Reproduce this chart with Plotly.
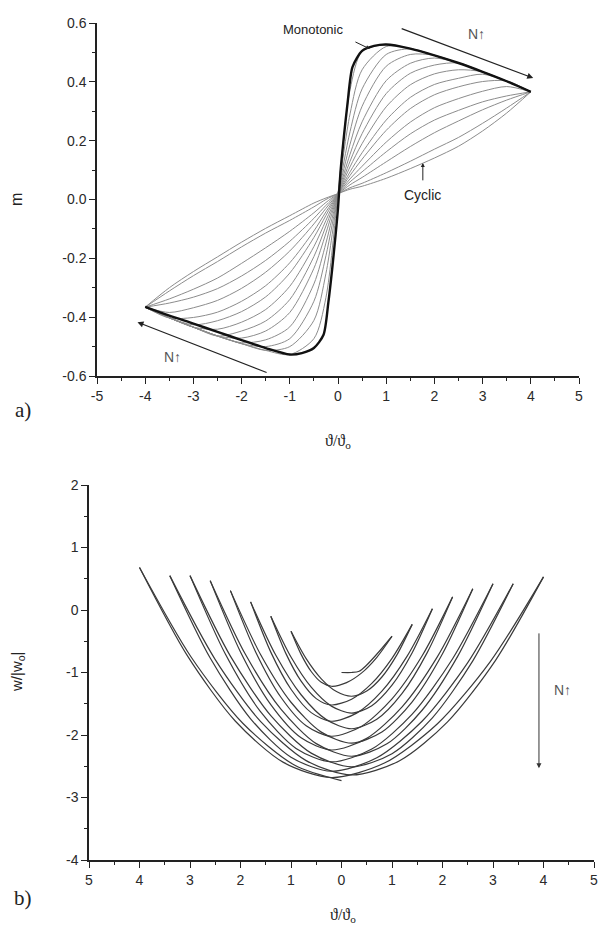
import plotly.graph_objects as go

# ---------------- Panel a data ----------------
theta_mono = [-4, -3.5, -3, -2.5, -2, -1.5, -1, -0.75, -0.5, -0.3, -0.2, -0.12, -0.05, 0,
              0.05, 0.12, 0.2, 0.3, 0.5, 0.75, 1, 1.5, 2, 2.5, 3, 3.5, 4]
m_mono = [-0.365, -0.395, -0.422, -0.45, -0.478, -0.505, -0.527, -0.522, -0.505, -0.46, -0.35,
          -0.235, -0.12, -0.03, 0.09, 0.21, 0.33, 0.45, 0.505, 0.522, 0.527, 0.513, 0.49,
          0.464, 0.434, 0.402, 0.366]

theta_a = [-4, -3.5, -3, -2.5, -2, -1.5, -1, -0.5, -0.25, 0, 0.25, 0.5, 1, 1.5, 2, 2.5, 3, 3.5, 4]
m_cyc_01 = [-0.366, -0.402, -0.434, -0.464, -0.49, -0.513, -0.527, -0.473, -0.333, 0.02, 0.373, 0.503, 0.527, 0.513, 0.49, 0.464, 0.434, 0.402, 0.366]
m_cyc_02 = [-0.366, -0.402, -0.434, -0.464, -0.49, -0.513, -0.500, -0.411, -0.251, 0.02, 0.291, 0.441, 0.520, 0.513, 0.49, 0.464, 0.434, 0.402, 0.366]
m_cyc_03 = [-0.366, -0.402, -0.434, -0.464, -0.49, -0.500, -0.473, -0.346, -0.191, 0.02, 0.231, 0.376, 0.493, 0.512, 0.49, 0.464, 0.434, 0.402, 0.366]
m_cyc_04 = [-0.366, -0.402, -0.434, -0.464, -0.487, -0.477, -0.433, -0.287, -0.148, 0.02, 0.188, 0.317, 0.453, 0.493, 0.49, 0.464, 0.434, 0.402, 0.366]
m_cyc_05 = [-0.366, -0.402, -0.434, -0.464, -0.471, -0.447, -0.384, -0.234, -0.114, 0.02, 0.154, 0.264, 0.404, 0.463, 0.481, 0.464, 0.434, 0.402, 0.366]
m_cyc_06 = [-0.366, -0.402, -0.434, -0.464, -0.447, -0.413, -0.340, -0.194, -0.090, 0.02, 0.130, 0.224, 0.360, 0.429, 0.457, 0.464, 0.434, 0.402, 0.366]
m_cyc_07 = [-0.366, -0.402, -0.434, -0.441, -0.417, -0.374, -0.295, -0.160, -0.071, 0.02, 0.111, 0.190, 0.315, 0.390, 0.427, 0.441, 0.434, 0.402, 0.366]
m_cyc_08 = [-0.366, -0.402, -0.426, -0.412, -0.381, -0.331, -0.250, -0.129, -0.054, 0.02, 0.094, 0.159, 0.270, 0.347, 0.391, 0.412, 0.426, 0.402, 0.366]
m_cyc_09 = [-0.366, -0.403, -0.401, -0.383, -0.346, -0.293, -0.215, -0.107, -0.042, 0.02, 0.082, 0.137, 0.235, 0.309, 0.356, 0.383, 0.401, 0.403, 0.366]
m_cyc_10 = [-0.366, -0.384, -0.368, -0.343, -0.302, -0.247, -0.175, -0.083, -0.030, 0.02, 0.070, 0.113, 0.195, 0.263, 0.312, 0.343, 0.368, 0.384, 0.366]
m_cyc_11 = [-0.366, -0.352, -0.332, -0.303, -0.260, -0.207, -0.142, -0.064, -0.020, 0.02, 0.060, 0.094, 0.162, 0.223, 0.270, 0.303, 0.332, 0.352, 0.366]
m_cyc_12 = [-0.366, -0.338, -0.305, -0.267, -0.217, -0.164, -0.108, -0.045, -0.010, 0.02, 0.050, 0.075, 0.128, 0.180, 0.227, 0.267, 0.305, 0.338, 0.366]
m_cyc_13 = [-0.366, -0.311, -0.259, -0.211, -0.161, -0.114, -0.071, -0.025, 0.000, 0.02, 0.040, 0.055, 0.091, 0.130, 0.171, 0.211, 0.259, 0.311, 0.366]
m_cyc_14 = [-0.366, -0.300, -0.245, -0.195, -0.145, -0.098, -0.055, -0.012, 0.005, 0.02, 0.035, 0.045, 0.072, 0.105, 0.141, 0.181, 0.233, 0.294, 0.366]
cyclic_m = [m_cyc_01, m_cyc_02, m_cyc_03, m_cyc_04, m_cyc_05, m_cyc_06, m_cyc_07,
            m_cyc_08, m_cyc_09, m_cyc_10, m_cyc_11, m_cyc_12, m_cyc_13, m_cyc_14]

ticks_a_x = [-5, -4, -3, -2, -1, 0, 1, 2, 3, 4, 5]
ticks_a_xtext = ["-5", "-4", "-3", "-2", "-1", "0", "1", "2", "3", "4", "5"]
ticks_a_y = [-0.6, -0.4, -0.2, 0.0, 0.2, 0.4, 0.6]
ticks_a_ytext = ["-0.6", "-0.4", "-0.2", "0.0", "0.2", "0.4", "0.6"]

# ---------------- Panel b data (successive half-cycles) ----------------
th_b_00 = [0, 0.2, 0.35, 0.5, 0.75, 1.0]
w_b_00 = [-1.0, -1.0, -0.98, -0.88, -0.66, -0.42]
th_b_01 = [-1, -0.8, -0.6, -0.4, -0.2, 0.1, 0.4, 0.7, 1.0]
w_b_01 = [-0.34, -0.710, -0.984, -1.157, -1.22, -1.162, -1.006, -0.757, -0.42]
th_b_02 = [-1, -0.7, -0.4, -0.1, 0.2, 0.5, 0.8, 1.1, 1.4]
w_b_02 = [-0.34, -0.778, -1.101, -1.305, -1.38, -1.297, -1.072, -0.714, -0.23]
th_b_03 = [-1.4, -1.1, -0.8, -0.5, -0.2, 0.2, 0.6, 1.0, 1.4]
w_b_03 = [-0.10, -0.698, -1.139, -1.418, -1.52, -1.427, -1.174, -0.773, -0.23]
th_b_04 = [-1.4, -1.0, -0.6, -0.2, 0.2, 0.6, 1.0, 1.4, 1.8]
w_b_04 = [-0.10, -0.753, -1.235, -1.538, -1.65, -1.530, -1.202, -0.683, 0.02]
th_b_05 = [-1.8, -1.4, -1.0, -0.6, -0.2, 0.3, 0.8, 1.3, 1.8]
w_b_05 = [0.13, -0.674, -1.268, -1.642, -1.78, -1.650, -1.298, -0.738, 0.02]
th_b_06 = [-1.8, -1.3, -0.8, -0.3, 0.2, 0.7, 1.2, 1.7, 2.2]
w_b_06 = [0.13, -0.725, -1.356, -1.754, -1.90, -1.748, -1.335, -0.678, 0.21]
th_b_07 = [-2.2, -1.7, -1.2, -0.7, -0.2, 0.4, 1.0, 1.6, 2.2]
w_b_07 = [0.31, -0.671, -1.396, -1.852, -2.02, -1.859, -1.422, -0.729, 0.21]
th_b_08 = [-2.2, -1.6, -1.0, -0.4, 0.2, 0.8, 1.4, 2.0, 2.6]
w_b_08 = [0.31, -0.717, -1.476, -1.954, -2.13, -1.952, -1.468, -0.700, 0.34]
th_b_09 = [-2.6, -2.0, -1.4, -0.8, -0.2, 0.5, 1.2, 1.9, 2.6]
w_b_09 = [0.47, -0.671, -1.514, -2.045, -2.24, -2.054, -1.549, -0.746, 0.34]
th_b_10 = [-2.6, -1.9, -1.2, -0.5, 0.2, 0.9, 1.6, 2.3, 3.0]
w_b_10 = [0.47, -0.713, -1.587, -2.138, -2.34, -2.141, -1.600, -0.742, 0.42]
th_b_11 = [-3.0, -2.3, -1.6, -0.9, -0.2, 0.6, 1.4, 2.2, 3.0]
w_b_11 = [0.55, -0.705, -1.631, -2.215, -2.43, -2.225, -1.666, -0.780, 0.42]
th_b_12 = [-3.0, -2.2, -1.4, -0.6, 0.2, 1.0, 1.8, 2.6, 3.4]
w_b_12 = [0.55, -0.738, -1.690, -2.290, -2.51, -2.299, -1.725, -0.814, 0.42]
th_b_13 = [-3.4, -2.6, -1.8, -1.0, -0.2, 0.7, 1.6, 2.5, 3.4]
w_b_13 = [0.55, -0.768, -1.741, -2.355, -2.58, -2.364, -1.776, -0.843, 0.42]
th_b_14 = [-3.4, -2.5, -1.6, -0.7, 0.2, 1.15, 2.1, 3.05, 4.0]
w_b_14 = [0.55, -0.793, -1.785, -2.410, -2.64, -2.412, -1.790, -0.805, 0.53]
th_b_15 = [-4.0, -3.05, -2.1, -1.15, -0.2, 0.85, 1.9, 2.95, 4.0]
w_b_15 = [0.68, -0.735, -1.780, -2.438, -2.68, -2.449, -1.820, -0.821, 0.53]
th_b_16 = [-4.0, -2.975, -1.95, -0.925, 0.0]
w_b_16 = [0.68, -0.756, -1.816, -2.484, -2.73]
half_cycles = [(th_b_00, w_b_00), (th_b_01, w_b_01), (th_b_02, w_b_02), (th_b_03, w_b_03),
               (th_b_04, w_b_04), (th_b_05, w_b_05), (th_b_06, w_b_06), (th_b_07, w_b_07),
               (th_b_08, w_b_08), (th_b_09, w_b_09), (th_b_10, w_b_10), (th_b_11, w_b_11),
               (th_b_12, w_b_12), (th_b_13, w_b_13), (th_b_14, w_b_14), (th_b_15, w_b_15),
               (th_b_16, w_b_16)]

ticks_b_x = [-5, -4, -3, -2, -1, 0, 1, 2, 3, 4, 5]
ticks_b_xtext = ["5", "4", "3", "2", "1", "0", "1", "2", "3", "4", "5"]
ticks_b_y = [-4, -3, -2, -1, 0, 1, 2]
ticks_b_ytext = ["-4", "-3", "-2", "-1", "0", "1", "2"]

# ---------------- Figure ----------------
W, H = 603, 937
def px(x):
    return x / W
def py(y):
    return 1 - y / H

fig = go.Figure()

for m in cyclic_m:
    fig.add_trace(go.Scatter(x=theta_a, y=m, mode="lines", xaxis="x", yaxis="y",
                             line=dict(color="#8c8c8c", width=1, shape="spline", smoothing=0.8),
                             hoverinfo="skip", showlegend=False))
fig.add_trace(go.Scatter(x=theta_mono, y=m_mono, mode="lines", xaxis="x", yaxis="y",
                         line=dict(color="#111111", width=2.4, shape="spline", smoothing=0.7),
                         hoverinfo="skip", showlegend=False))

for th, w in half_cycles:
    fig.add_trace(go.Scatter(x=th, y=w, mode="lines", xaxis="x2", yaxis="y2",
                             line=dict(color="#3a3a3a", width=1.2, shape="spline", smoothing=0.8),
                             hoverinfo="skip", showlegend=False))

tickfont = dict(family="Liberation Sans, Arial, sans-serif", size=14, color="#2a2a2a")
axis_common = dict(showline=True, linecolor="#222222", linewidth=1.5, ticks="outside",
                   ticklen=6, tickwidth=1.3, tickcolor="#222222", showgrid=False,
                   zeroline=False, mirror=False, tickfont=tickfont, fixedrange=True,
                   ticklabeloverflow="allow")

fig.update_layout(
    width=W, height=H,
    margin=dict(l=0, r=0, t=0, b=0, autoexpand=False),
    paper_bgcolor="white", plot_bgcolor="white",
    xaxis=dict(domain=[px(97), px(579)], range=[-5, 5], tickvals=ticks_a_x,
               ticktext=ticks_a_xtext, anchor="y",
               minor=dict(dtick=0.5, tick0=0, ticks="outside", ticklen=3, tickcolor="#222222"),
               **axis_common),
    yaxis=dict(domain=[py(376), py(23)], range=[-0.6, 0.6], tickvals=ticks_a_y,
               ticktext=ticks_a_ytext, anchor="x",
               minor=dict(dtick=0.1, tick0=0, ticks="outside", ticklen=3, tickcolor="#222222"),
               **axis_common),
    xaxis2=dict(domain=[px(89), px(594)], range=[-5, 5], tickvals=ticks_b_x,
                ticktext=ticks_b_xtext, anchor="y2",
                minor=dict(dtick=0.5, tick0=0, ticks="outside", ticklen=3, tickcolor="#222222"),
                **axis_common),
    yaxis2=dict(domain=[py(860), py(485)], range=[-4, 2], tickvals=ticks_b_y,
                ticktext=ticks_b_ytext, anchor="x2",
                minor=dict(dtick=0.5, tick0=0, ticks="outside", ticklen=3, tickcolor="#222222"),
                **axis_common),
)

sans = "Liberation Sans, Arial, sans-serif"
serif = "Liberation Serif, Times New Roman, serif"
C = dict(xanchor="center", yanchor="middle")
ann = []
# axis titles and panel labels
ann.append(dict(x=px(17), y=py(200), xref="paper", yref="paper", text="m", textangle=-90,
                showarrow=False, font=dict(family=sans, size=16, color="#222"), **C))
ann.append(dict(x=px(338), y=py(441), xref="paper", yref="paper", text="ϑ/ϑ<sub>o</sub>",
                showarrow=False, font=dict(family=serif, size=16, color="#222"), **C))
ann.append(dict(x=px(23), y=py(410), xref="paper", yref="paper", text="a)",
                showarrow=False, font=dict(family=serif, size=21, color="#222"), **C))
ann.append(dict(x=px(17), y=py(672), xref="paper", yref="paper", text="w/|w<sub>o</sub>|",
                textangle=-90, showarrow=False, font=dict(family=sans, size=15, color="#222"), **C))
ann.append(dict(x=px(343), y=py(915), xref="paper", yref="paper", text="ϑ/ϑ<sub>o</sub>",
                showarrow=False, font=dict(family=serif, size=16, color="#222"), **C))
ann.append(dict(x=px(23), y=py(898), xref="paper", yref="paper", text="b)",
                showarrow=False, font=dict(family=serif, size=21, color="#222"), **C))

# panel a annotations
ann.append(dict(x=-0.52, y=0.577, xref="x", yref="y", text="Monotonic", showarrow=False,
                font=dict(family=sans, size=13, color="#222"), **C))
ann.append(dict(x=0.66, y=0.512, ax=0.33, ay=0.538, xref="x", yref="y", axref="x", ayref="y",
                text="", showarrow=True, arrowhead=2, arrowsize=0.8, arrowwidth=1, arrowcolor="#222"))
ann.append(dict(x=4.05, y=0.413, ax=1.29, ay=0.583, xref="x", yref="y", axref="x", ayref="y",
                text="", showarrow=True, arrowhead=2, arrowsize=1, arrowwidth=1.2, arrowcolor="#222"))
ann.append(dict(x=2.88, y=0.563, xref="x", yref="y", text="N↑", showarrow=False,
                font=dict(family=sans, size=14, color="#555"), **C))
ann.append(dict(x=1.76, y=0.015, xref="x", yref="y", text="Cyclic", showarrow=False,
                font=dict(family=sans, size=14, color="#222"), **C))
ann.append(dict(x=1.76, y=0.124, ax=1.76, ay=0.06, xref="x", yref="y", axref="x", ayref="y",
                text="", showarrow=True, arrowhead=2, arrowsize=0.8, arrowwidth=1, arrowcolor="#222"))
ann.append(dict(x=-4.16, y=-0.417, ax=-1.45, ay=-0.59, xref="x", yref="y", axref="x", ayref="y",
                text="", showarrow=True, arrowhead=2, arrowsize=1, arrowwidth=1.2, arrowcolor="#222"))
ann.append(dict(x=-3.44, y=-0.536, xref="x", yref="y", text="N↑", showarrow=False,
                font=dict(family=sans, size=14, color="#555"), **C))

# panel b annotations
ann.append(dict(x=3.91, y=-2.53, ax=3.91, ay=-0.35, xref="x2", yref="y2", axref="x2", ayref="y2",
                text="", showarrow=True, arrowhead=2, arrowsize=1, arrowwidth=1, arrowcolor="#333"))
ann.append(dict(x=4.37, y=-1.28, xref="x2", yref="y2", text="N↑", showarrow=False,
                font=dict(family=sans, size=14, color="#555"), **C))

fig.update_layout(annotations=ann)
fig.write_html("out.html", config={"displayModeBar": False},
               post_script="document.body.style.margin='0';document.body.style.padding='0';"
                           "document.body.style.overflow='hidden';")
